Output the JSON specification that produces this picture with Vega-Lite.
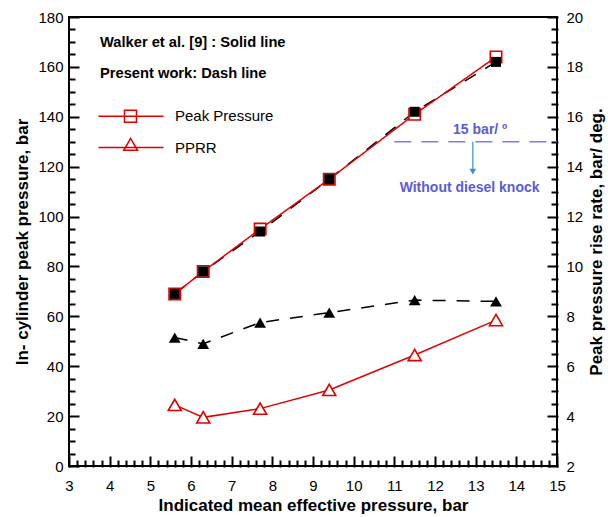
{
  "$schema": "https://vega.github.io/schema/vega-lite/v6.json",
  "width": 488,
  "height": 449,
  "autosize": {"type": "none"},
  "padding": {"left": 69, "top": 17, "right": 51, "bottom": 51},
  "background": "white",
  "config": {
    "view": {"stroke": "black", "strokeWidth": 2},
    "font": "Liberation Sans",
    "axis": {
      "domain": false,
      "zindex": 1,
      "ticks": true,
      "tickColor": "#000000",
      "tickOpacity": 1,
      "tickWidth": 2,
      "tickCap": "square",
      "grid": false,
      "labelFont": "Liberation Sans",
      "labelFontSize": 15,
      "labelColor": "black",
      "labelOverlap": false,
      "labelFlush": false,
      "titleFont": "Liberation Sans",
      "titleFontSize": 17,
      "titleFontWeight": "bold",
      "titleColor": "black"
    },
    "legend": {
      "orient": "none",
      "padding": 0,
      "labelFont": "Liberation Sans",
      "labelFontSize": 15,
      "labelColor": "black",
      "labelLimit": 300,
      "labelOffset": 60,
      "symbolSize": 121,
      "symbolFillColor": "transparent",
      "symbolStrokeColor": "#e00000",
      "symbolStrokeWidth": 1.5,
      "symbolOpacity": 1
    }
  },
  "datasets": {
    "results": [
      {"imep": 5.6, "source": "Walker et al. [9]", "quantity": "Peak Pressure", "value": 69},
      {"imep": 6.3, "source": "Walker et al. [9]", "quantity": "Peak Pressure", "value": 78},
      {"imep": 7.7, "source": "Walker et al. [9]", "quantity": "Peak Pressure", "value": 95},
      {"imep": 9.4, "source": "Walker et al. [9]", "quantity": "Peak Pressure", "value": 115},
      {"imep": 11.5, "source": "Walker et al. [9]", "quantity": "Peak Pressure", "value": 141},
      {"imep": 13.5, "source": "Walker et al. [9]", "quantity": "Peak Pressure", "value": 164},
      {"imep": 5.6, "source": "Present work", "quantity": "Peak Pressure", "value": 69},
      {"imep": 6.3, "source": "Present work", "quantity": "Peak Pressure", "value": 78},
      {"imep": 7.7, "source": "Present work", "quantity": "Peak Pressure", "value": 94},
      {"imep": 9.4, "source": "Present work", "quantity": "Peak Pressure", "value": 115},
      {"imep": 11.5, "source": "Present work", "quantity": "Peak Pressure", "value": 142},
      {"imep": 13.5, "source": "Present work", "quantity": "Peak Pressure", "value": 162},
      {"imep": 5.6, "source": "Walker et al. [9]", "quantity": "PPRR", "value": 4.45},
      {"imep": 6.3, "source": "Walker et al. [9]", "quantity": "PPRR", "value": 3.95},
      {"imep": 7.7, "source": "Walker et al. [9]", "quantity": "PPRR", "value": 4.3},
      {"imep": 9.4, "source": "Walker et al. [9]", "quantity": "PPRR", "value": 5.05},
      {"imep": 11.5, "source": "Walker et al. [9]", "quantity": "PPRR", "value": 6.45},
      {"imep": 13.5, "source": "Walker et al. [9]", "quantity": "PPRR", "value": 7.85},
      {"imep": 5.6, "source": "Present work", "quantity": "PPRR", "value": 7.15},
      {"imep": 6.3, "source": "Present work", "quantity": "PPRR", "value": 6.9},
      {"imep": 7.7, "source": "Present work", "quantity": "PPRR", "value": 7.75},
      {"imep": 9.4, "source": "Present work", "quantity": "PPRR", "value": 8.15},
      {"imep": 11.5, "source": "Present work", "quantity": "PPRR", "value": 8.65},
      {"imep": 13.5, "source": "Present work", "quantity": "PPRR", "value": 8.6}
    ],
    "limit": [{"from": 11, "to": 15, "rate": 15}],
    "arrow": [{"imep": 12.93, "top": 15, "bottom": 13.75}],
    "arrowhead": [{"imep": 12.93, "rate": 13.8}],
    "notes": [
      {"imep": 13.11, "rate": 15.47, "text": "15 bar/ º"},
      {"imep": 12.85, "rate": 13.14, "text": "Without diesel knock"}
    ]
  },
  "data": {"name": "results"},
  "encoding": {
    "x": {
      "field": "imep",
      "type": "quantitative",
      "scale": {"domain": [3, 15], "nice": false, "zero": false},
      "axis": null
    }
  },
  "layer": [
    {
      "transform": [{"filter": "datum.quantity === 'Peak Pressure' && datum.source === 'Present work'"}],
      "mark": {"type": "line", "color": "black", "strokeWidth": 1.5, "strokeDash": [13, 11]},
      "encoding": {
        "x": {
          "field": "imep",
          "type": "quantitative",
          "scale": {"domain": [3, 15], "nice": false, "zero": false},
          "axis": {
            "orient": "bottom",
            "title": null,
            "labels": false,
            "offset": -5,
            "tickSize": 5,
            "values": [3.2,3.4,3.6,3.8,4.2,4.4,4.6,4.8,5.2,5.4,5.6,5.8,6.2,6.4,6.6,6.8,7.2,7.4,7.6,7.8,8.2,8.4,8.6,8.8,9.2,9.4,9.6,9.8,10.2,10.4,10.6,10.8,11.2,11.4,11.6,11.8,12.2,12.4,12.6,12.8,13.2,13.4,13.6,13.8,14.2,14.4,14.6,14.8]
          }
        },
        "y": {
          "field": "value",
          "type": "quantitative",
          "scale": {"domain": [0, 180], "nice": false},
          "axis": {
            "orient": "left",
            "title": null,
            "labels": false,
            "offset": -5,
            "tickSize": 5,
            "values": [5,10,15,25,30,35,45,50,55,65,70,75,85,90,95,105,110,115,125,130,135,145,150,155,165,170,175]
          }
        }
      }
    },
    {
      "transform": [{"filter": "datum.quantity === 'Peak Pressure' && datum.source === 'Walker et al. [9]'"}],
      "mark": {"type": "line", "color": "#e00000", "strokeWidth": 1.5},
      "encoding": {
        "x": {
          "field": "imep",
          "type": "quantitative",
          "scale": {"domain": [3, 15], "nice": false, "zero": false},
          "axis": {
            "orient": "bottom",
            "title": "Indicated mean effective pressure, bar",
            "titlePadding": 4,
            "offset": -9,
            "tickSize": 9,
            "labelPadding": 12,
            "values": [3,4,5,6,7,8,9,10,11,12,13,14,15],
            "format": "d"
          }
        },
        "y": {
          "field": "value",
          "type": "quantitative",
          "scale": {"domain": [0, 180], "nice": false},
          "axis": {
            "orient": "left",
            "title": "In- cylinder peak pressure, bar",
            "titlePadding": 6,
            "offset": -9,
            "tickSize": 9,
            "labelPadding": 6,
            "values": [0,20,40,60,80,100,120,140,160,180]
          }
        },
        "strokeDash": {
          "field": "quantity",
          "type": "nominal",
          "scale": {"domain": ["Peak Pressure"], "range": [[1, 0]]},
          "legend": {
            "legendX": 31,
            "legendY": 18,
            "title": ["Walker et al. [9] : Solid line", "Present work: Dash line"],
            "titleFont": "Liberation Sans",
            "titleFontSize": 14.7,
            "titleFontWeight": "bold",
            "titleColor": "black",
            "titleLimit": 400,
            "titleLineHeight": 31,
            "titlePadding": 28,
            "symbolType": "M-1.64,0H10.18M3.09,-1.09H5.27V1.09H3.09Z"
          }
        }
      }
    },
    {
      "transform": [{"filter": "datum.quantity === 'Peak Pressure' && datum.source === 'Walker et al. [9]'"}],
      "mark": {"type": "point", "shape": "square", "filled": false, "fill": "white", "fillOpacity": 1, "stroke": "#e00000", "strokeWidth": 1.6, "opacity": 1, "size": 130},
      "encoding": {
        "y": {"field": "value", "type": "quantitative", "scale": {"domain": [0, 180], "nice": false}, "axis": null}
      }
    },
    {
      "transform": [{"filter": "datum.quantity === 'Peak Pressure' && datum.source === 'Present work'"}],
      "mark": {"type": "point", "shape": "square", "filled": true, "color": "black", "opacity": 1, "size": 100},
      "encoding": {
        "y": {"field": "value", "type": "quantitative", "scale": {"domain": [0, 180], "nice": false}, "axis": null}
      }
    },
    {
      "transform": [{"filter": "datum.quantity === 'PPRR' && datum.source === 'Present work'"}],
      "mark": {"type": "line", "color": "black", "strokeWidth": 1.5, "strokeDash": [13, 11]},
      "encoding": {
        "y": {
          "field": "value",
          "type": "quantitative",
          "scale": {"domain": [2, 20], "nice": false, "zero": false},
          "axis": {
            "orient": "right",
            "title": null,
            "labels": false,
            "offset": -5,
            "tickSize": 5,
            "values": [2.5,3,3.5,4.5,5,5.5,6.5,7,7.5,8.5,9,9.5,10.5,11,11.5,12.5,13,13.5,14.5,15,15.5,16.5,17,17.5,18.5,19,19.5]
          }
        }
      }
    },
    {
      "transform": [{"filter": "datum.quantity === 'PPRR' && datum.source === 'Walker et al. [9]'"}],
      "mark": {"type": "line", "color": "#e00000", "strokeWidth": 1.5},
      "encoding": {
        "y": {
          "field": "value",
          "type": "quantitative",
          "scale": {"domain": [2, 20], "nice": false, "zero": false},
          "axis": {
            "orient": "right",
            "title": "Peak pressure rise rate, bar/ deg.",
            "titleAngle": 270,
            "titleBaseline": "top",
            "titlePadding": 6,
            "offset": -9,
            "tickSize": 9,
            "labelPadding": 9,
            "values": [2,4,6,8,10,12,14,16,18,20],
            "format": "d"
          }
        },
        "opacity": {
          "field": "quantity",
          "type": "ordinal",
          "scale": {"domain": ["PPRR"], "range": [1]},
          "legend": {
            "legendX": 31,
            "legendY": 123,
            "title": null,
            "symbolType": "M-1.64,0H10.18M4.2,-1.64L5.45,0.5H2.95Z"
          }
        }
      }
    },
    {
      "transform": [{"filter": "datum.quantity === 'PPRR' && datum.source === 'Walker et al. [9]'"}],
      "mark": {"type": "point", "shape": "triangle-up", "filled": false, "fill": "white", "fillOpacity": 1, "stroke": "#e00000", "strokeWidth": 1.6, "opacity": 1, "size": 170},
      "encoding": {
        "y": {"field": "value", "type": "quantitative", "scale": {"domain": [2, 20], "nice": false, "zero": false}, "axis": null}
      }
    },
    {
      "transform": [{"filter": "datum.quantity === 'PPRR' && datum.source === 'Present work'"}],
      "mark": {"type": "point", "shape": "triangle-up", "filled": true, "color": "black", "opacity": 1, "size": 140},
      "encoding": {
        "y": {"field": "value", "type": "quantitative", "scale": {"domain": [2, 20], "nice": false, "zero": false}, "axis": null}
      }
    },
    {
      "data": {"name": "limit"},
      "mark": {"type": "rule", "color": "#7d7de8", "strokeWidth": 1.5, "strokeDash": [17, 10]},
      "encoding": {
        "x": {"field": "from", "type": "quantitative", "scale": {"domain": [3, 15], "nice": false, "zero": false}, "axis": null},
        "x2": {"field": "to"},
        "y": {"field": "rate", "type": "quantitative", "scale": {"domain": [2, 20], "nice": false, "zero": false}, "axis": null}
      }
    },
    {
      "data": {"name": "arrow"},
      "mark": {"type": "rule", "color": "#3a8ed8", "strokeWidth": 1.2},
      "encoding": {
        "y": {"field": "top", "type": "quantitative", "scale": {"domain": [2, 20], "nice": false, "zero": false}, "axis": null},
        "y2": {"field": "bottom"}
      }
    },
    {
      "data": {"name": "arrowhead"},
      "mark": {"type": "point", "shape": "triangle-down", "filled": true, "color": "#3a8ed8", "opacity": 1, "size": 45},
      "encoding": {
        "y": {"field": "rate", "type": "quantitative", "scale": {"domain": [2, 20], "nice": false, "zero": false}, "axis": null}
      }
    },
    {
      "data": {"name": "notes"},
      "mark": {"type": "text", "font": "Liberation Sans", "fontSize": 14, "fontWeight": "bold", "color": "#5b5bd6", "align": "center", "baseline": "middle"},
      "encoding": {
        "y": {"field": "rate", "type": "quantitative", "scale": {"domain": [2, 20], "nice": false, "zero": false}, "axis": null},
        "text": {"field": "text"}
      }
    }
  ],
  "resolve": {"scale": {"x": "independent", "y": "independent"}}
}
